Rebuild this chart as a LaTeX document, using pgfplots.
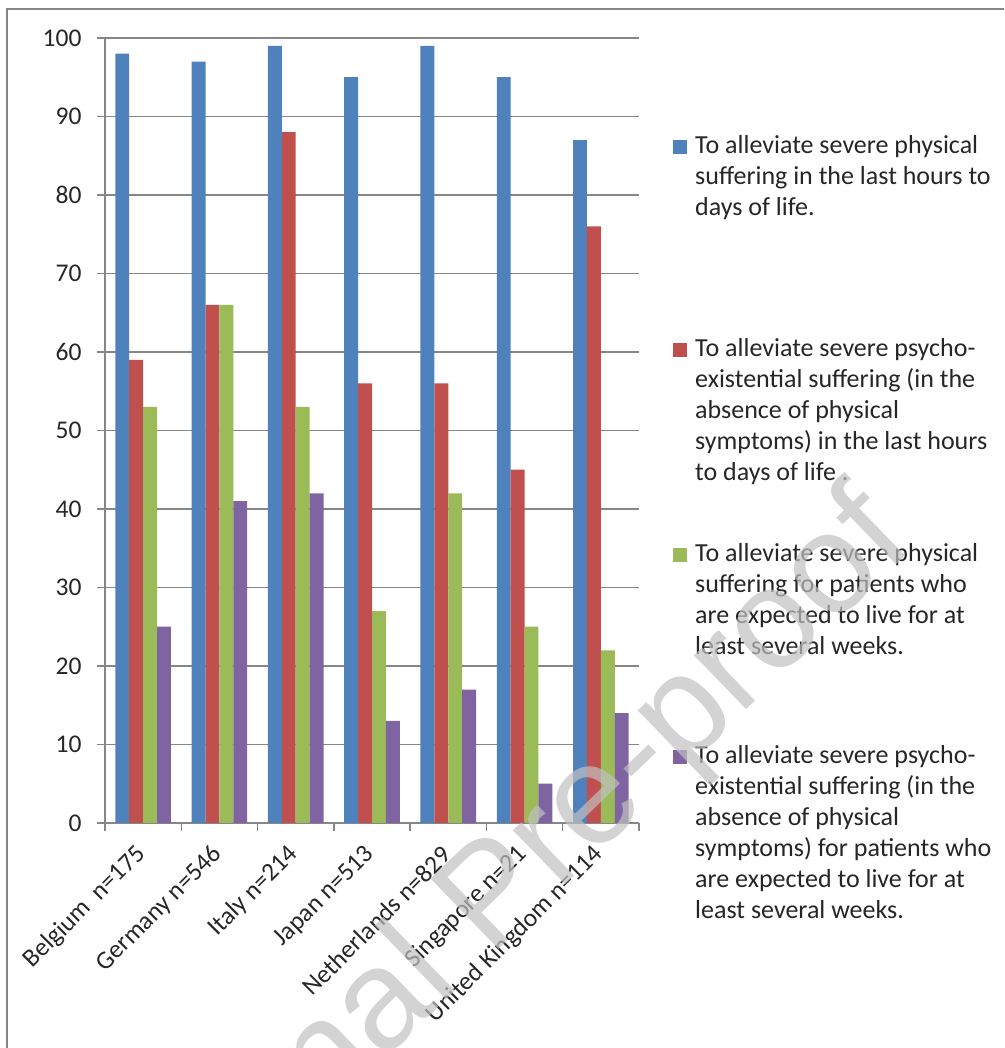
\documentclass[border=0pt]{standalone}
\usepackage{pgfplots}
\pgfplotsset{compat=1.18}
\usepackage{fontspec}
\setmainfont{Carlito}
\newfontfamily\wmfont{Liberation Sans}

\definecolor{s1}{HTML}{4F81BD}
\definecolor{s2}{HTML}{C0504D}
\definecolor{s3}{HTML}{9BBB59}
\definecolor{s4}{HTML}{8064A2}
\definecolor{gridgray}{HTML}{868686}
\definecolor{txt}{HTML}{262626}
\definecolor{wmgray}{HTML}{C0C0C0}

\newcommand\lblfont{\fontsize{25.5}{31}\selectfont}
\newcommand\legfont{\fontsize{26}{31}\selectfont}
% one legend line, placed on its baseline
\newcommand\legline[2]{\node[anchor=base west, inner sep=0pt, font=\legfont, text=txt] at (695pt,#1pt) {#2};}
\newcommand\legbox[2]{\fill[#1] (673pt,#2pt) rectangle ++(14pt,14pt);}

\begin{document}
\begin{tikzpicture}
\path[use as bounding box] (0pt,0pt) rectangle (1004pt,1048pt);
\draw[gridgray, line width=1.5pt] (7pt,0pt) -- (7pt,1039pt) -- (1004pt,1039pt);

\begin{axis}[
  at={(105pt,225pt)}, anchor=south west,
  scale only axis, width=534pt, height=785pt,
  xmin=-0.5, xmax=6.5, ymin=0, ymax=100,
  ybar=0pt, bar width=13.9pt,
  axis x line=bottom, axis y line=left,
  axis line style={gridgray, line width=1.5pt, -},
  ymajorgrids, grid style={gridgray, line width=1.5pt},
  ytick={0,10,...,100},
  xtick={0,...,6},
  xticklabels={Belgium\ \ n=175, Germany n=546, Italy n=214, Japan n=513,
    Netherlands n=829, Singapore n=21, United Kingdom n=114},
  xtick style={draw=none},
  extra x ticks={-0.5,0.5,...,6.5},
  extra x tick labels={},
  extra x tick style={xtick style={draw=gridgray, line width=1.5pt}},
  ytick style={draw=gridgray, line width=1.5pt},
  major tick length=8pt, tick align=outside,
  /pgf/number format/assume math mode=true,
  yticklabel style={font=\lblfont, text=txt, xshift=-12pt},
  xticklabel shift=18pt,
  xticklabel style={font=\lblfont, text=txt, rotate=45, anchor=east, inner sep=2pt},
]
\addplot[fill=s1, draw=none] coordinates {(0,98) (1,97) (2,99) (3,95) (4,99) (5,95) (6,87)};
\addplot[fill=s2, draw=none] coordinates {(0,59) (1,66) (2,88) (3,56) (4,56) (5,45) (6,76)};
\addplot[fill=s3, draw=none] coordinates {(0,53) (1,66) (2,53) (3,27) (4,42) (5,25) (6,22)};
\addplot[fill=s4, draw=none] coordinates {(0,25) (1,41) (2,42) (3,13) (4,17) (5,5) (6,14)};
\end{axis}

% legend
\legbox{s1}{894}
\legline{894}{To alleviate severe physical}
\legline{863}{suffering in the last hours to}
\legline{832}{days of life.}

\legbox{s2}{691}
\legline{691}{To alleviate severe psycho-}
\legline{660}{existential suffering (in the}
\legline{629}{absence of physical}
\legline{598}{symptoms) in the last hours}
\legline{567}{to days of life .}

\legbox{s3}{486}
\legline{486}{To alleviate severe physical}
\legline{455}{suffering for patients who}
\legline{424}{are expected to live for at}
\legline{393}{least several weeks.}

\legbox{s4}{284}
\legline{284}{To alleviate severe psycho-}
\legline{253}{existential suffering (in the}
\legline{222}{absence of physical}
\legline{191}{symptoms) for patients who}
\legline{160}{are expected to live for at}
\legline{129}{least several weeks.}

% watermark
\node[rotate=44, font=\wmfont\fontsize{142}{142}\selectfont,
      text=wmgray, text opacity=0.7] at (496pt,147pt) {Journal Pre-proof};
\end{tikzpicture}
\end{document}
